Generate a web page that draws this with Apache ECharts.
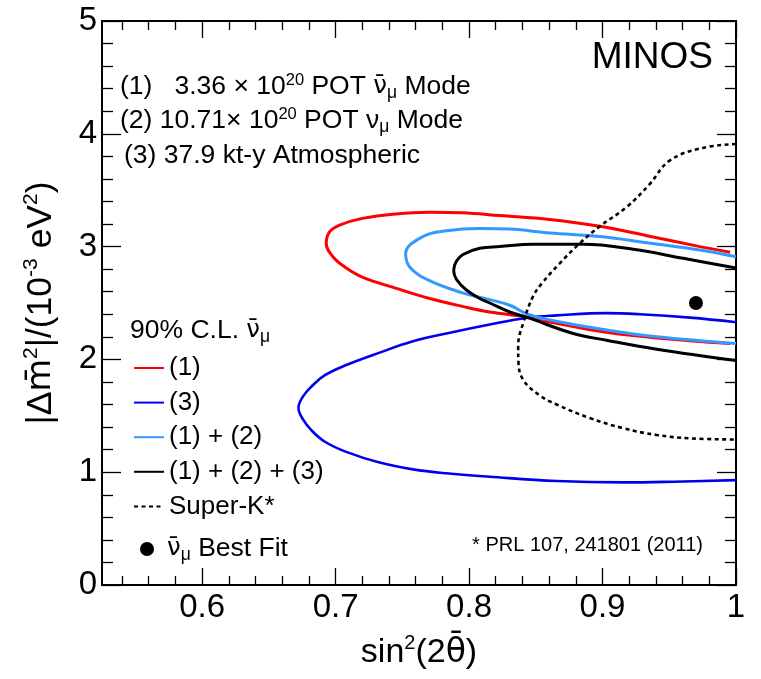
<!DOCTYPE html>
<html>
<head>
<meta charset="utf-8">
<script src="https://cdn.jsdelivr.net/npm/echarts@6/dist/echarts.min.js"></script>
<style>
html,body{margin:0;padding:0;background:#fff;}
#chart{width:761px;height:679px;}
</style>
</head>
<body>
<div id="chart"></div>
<script>
// ---- data ----
const xMin = 0.525, xMax = 1.0;
const yMin = 0, yMax = 5;
const xMajorTicks = [0.6, 0.7, 0.8, 0.9, 1.0];
const xMinorTicks = [0.54,0.56,0.58,0.62,0.64,0.66,0.68,0.72,0.74,0.76,0.78,0.82,0.84,0.86,0.88,0.92,0.94,0.96,0.98];
const seriesNames = ['(1)', '(3)', '(1) + (2)', '(1) + (2) + (3)', 'Super-K*', 'Best Fit'];

// (1) 90% C.L. contour
const redContour = [
  [0.9956,2.95],[0.973,3.00],[0.936,3.09],[0.898,3.18],[0.8605,3.24],[0.823,3.275],[0.795,3.30],
  [0.77,3.305],[0.745,3.29],[0.720,3.25],[0.703,3.19],[0.6955,3.13],[0.693,3.03],[0.698,2.91],
  [0.708,2.81],[0.720,2.73],[0.7455,2.63],[0.7705,2.54],[0.795,2.47],[0.8155,2.42],[0.844,2.375],
  [0.8656,2.32],[0.903,2.24],[0.9406,2.19],[0.9956,2.14]
];
// (3) 90% C.L. contour
const blueContour = [
  [1.0,2.33],[0.9656,2.37],[0.928,2.40],[0.903,2.41],[0.8656,2.39],[0.844,2.37],[0.8155,2.31],
  [0.783,2.23],[0.758,2.16],[0.733,2.06],[0.708,1.95],[0.692,1.86],[0.682,1.76],[0.6755,1.67],
  [0.6722,1.57],[0.6755,1.47],[0.682,1.37],[0.692,1.27],[0.708,1.18],[0.733,1.085],[0.758,1.025],
  [0.783,0.99],[0.8155,0.96],[0.8656,0.922],[0.9155,0.91],[0.953,0.916],[1.0,0.93]
];
// (1) + (2) 90% C.L. contour
const lightBlueContour = [
  [1.0,2.91],[0.973,2.97],[0.936,3.03],[0.898,3.09],[0.8605,3.12],[0.8305,3.155],[0.808,3.16],
  [0.783,3.14],[0.7655,3.09],[0.7525,2.94],[0.7555,2.82],[0.770,2.70],[0.795,2.59],[0.8155,2.53],
  [0.8305,2.48],[0.844,2.40],[0.8605,2.35],[0.903,2.26],[0.9406,2.20],[1.0,2.14]
];
// (1) + (2) + (3) 90% C.L. contour
const blackContour = [
  [1.0,2.81],[0.9605,2.896],[0.923,2.976],[0.8855,3.02],[0.848,3.02],[0.823,3.0],[0.808,2.985],
  [0.7955,2.93],[0.7905,2.87],[0.7885,2.79],[0.7905,2.71],[0.798,2.615],[0.808,2.54],[0.8155,2.50],
  [0.8305,2.42],[0.844,2.37],[0.878,2.23],[0.903,2.17],[0.9406,2.09],[1.0,1.99]
];
// Super-K 90% C.L. contour
const superKContour = [
  [1.0,3.91],[0.973,3.87],[0.95,3.76],[0.935,3.55],[0.918,3.35],[0.898,3.18],[0.883,3.03],
  [0.867,2.84],[0.855,2.68],[0.848,2.56],[0.8405,2.32],[0.8368,2.12],[0.837,1.98],[0.8405,1.82],
  [0.853,1.68],[0.8656,1.60],[0.8905,1.48],[0.9155,1.39],[0.9406,1.33],[0.9656,1.30],[1.0,1.29]
];
const bestFit = [[0.97, 2.50]];

// ---- chart ----
const FONT = 'Liberation Sans, Arial, Helvetica, sans-serif';
const BARFONT = 'DejaVu Sans, sans-serif';
const chart = echarts.init(document.getElementById('chart'), null, {renderer: 'canvas'});

function xAxisCfg(pos, ticks, len, labels) {
  return {
    type: 'value', position: pos, min: xMin, max: xMax,
    axisLine: {show: true, onZero: false, lineStyle: {color: '#000', width: 2}},
    axisTick: {show: true, inside: true, length: len, customValues: ticks, lineStyle: {color: '#000', width: 1.3}},
    axisLabel: labels ? {show: true, customValues: xMajorTicks, fontSize: 33, margin: 6, color: '#000', fontFamily: FONT,
      formatter: v => (Math.abs(v - 1) < 1e-9 ? '1' : String(Math.round(v * 10) / 10))} : {show: false},
    splitLine: {show: false}
  };
}
function yAxisCfg(pos, labels) {
  return {
    type: 'value', position: pos, min: yMin, max: yMax, interval: 1,
    axisLine: {show: true, onZero: false, lineStyle: {color: '#000', width: 2}},
    axisTick: {show: true, inside: true, length: 19, lineStyle: {color: '#000', width: 1.3}},
    minorTick: {show: true, splitNumber: 5, length: 11, lineStyle: {color: '#000', width: 1.3}},
    axisLabel: labels ? {show: true, fontSize: 33, margin: 5, color: '#000', fontFamily: FONT} : {show: false},
    splitLine: {show: false}, minorSplitLine: {show: false}
  };
}

const xAxes = [
  xAxisCfg('bottom', xMajorTicks, 17, true),
  xAxisCfg('bottom', xMinorTicks, 9, false),
  xAxisCfg('top', xMajorTicks, 17, false),
  xAxisCfg('top', xMinorTicks, 9, false)
];
Object.assign(xAxes[0], {
  name: 'sin{sup|2}(2{bar|\u03B8\u0304})', nameLocation: 'middle', nameGap: 48,
  nameTextStyle: {fontSize: 34, color: '#000', fontFamily: FONT, lineHeight: 40,
    rich: {
      sup: {fontSize: 20, lineHeight: 22, verticalAlign: 'top', color: '#000', fontFamily: FONT},
      bar: {fontSize: 33, lineHeight: 40, color: '#000', fontFamily: BARFONT}
    }}
});
const yAxes = [yAxisCfg('left', true), yAxisCfg('right', false)];
Object.assign(yAxes[0], {
  name: '|\u0394{bar|m\u0304}{sup|2}|/(10{sup|-3} eV{sup|2})', nameLocation: 'middle', nameGap: 41, nameRotate: 90,
  nameTextStyle: {fontSize: 35.5, color: '#000', fontFamily: FONT, lineHeight: 40,
    rich: {
      sup: {fontSize: 21, lineHeight: 22, verticalAlign: 'top', color: '#000', fontFamily: FONT},
      bar: {fontSize: 33.5, lineHeight: 40, color: '#000', fontFamily: BARFONT}
    }}
});

function contour(name, data, color, width, type) {
  return {
    name, type: 'line', data, xAxisIndex: 0, yAxisIndex: 0,
    showSymbol: false, symbol: 'none', smooth: 0.4, clip: true, silent: true,
    lineStyle: {color, width, type: type || 'solid'}, itemStyle: {color}, z: 3
  };
}

const richTxt = {
  t: {fontSize: 26.5, lineHeight: 30, fontFamily: FONT, color: '#000'},
  bar: {fontSize: 24.5, lineHeight: 30, fontFamily: BARFONT, color: '#000'},
  sup: {fontSize: 16.5, lineHeight: 17, verticalAlign: 'top', fontFamily: FONT, color: '#000'},
  sub: {fontSize: 17.5, lineHeight: 16, verticalAlign: 'bottom', fontFamily: FONT, color: '#000'}
};
const NUBAR = '{bar|\u03BD\u0304}';
function txt(x, y, text) {
  return {type: 'text', x, y, z: 10, silent: true,
    style: {text, rich: richTxt, align: 'left', verticalAlign: 'middle', fontFamily: FONT, fontSize: 26.5, fill: '#000'}};
}

const option = {
  animation: false,
  backgroundColor: '#fff',
  grid: {left: 102, right: 25, top: 21, bottom: 94, containLabel: false},
  xAxis: xAxes,
  yAxis: yAxes,
  legend: [
    {
      data: seriesNames.slice(0, 5), orient: 'vertical', left: 133, top: 355, padding: 0,
      itemWidth: 30, itemHeight: 14, itemGap: 8.6, selectedMode: false,
      itemStyle: {opacity: 0, borderWidth: 0},
      textStyle: {fontSize: 26, lineHeight: 26, color: '#000', fontFamily: FONT}
    },
    {
      data: [seriesNames[5]], orient: 'vertical', left: 140, top: 534, padding: 0,
      itemWidth: 14, itemHeight: 14, selectedMode: false,
      formatter: () => NUBAR + '{sub|\u03BC}{t| Best Fit}',
      textStyle: {fontSize: 26, lineHeight: 30, color: '#000', fontFamily: FONT, rich: richTxt, padding: [0, 0, 0, 8]}
    }
  ],
  graphic: [
    txt(120, 87, '{t|(1)   3.36 \u00D7 10}{sup|20}{t| POT }' + NUBAR + '{sub|\u03BC}{t| Mode}'),
    txt(120, 121, '{t|(2) 10.71\u00D7 10}{sup|20}{t| POT \u03BD}{sub|\u03BC}{t| Mode}'),
    txt(124, 156, '{t|(3) 37.9 kt-y Atmospheric}'),
    txt(130, 331, '{t|90% C.L. }' + NUBAR + '{sub|\u03BC}'),
    {type: 'text', x: 713, y: 58, z: 10, silent: true,
      style: {text: 'MINOS', fontSize: 37, fontFamily: FONT, fill: '#000', align: 'right', verticalAlign: 'middle'}},
    {type: 'text', x: 703, y: 545, z: 10, silent: true,
      style: {text: '* PRL 107, 241801 (2011)', fontSize: 20, fontFamily: FONT, fill: '#000', align: 'right', verticalAlign: 'middle'}}
  ],
  series: [
    contour(seriesNames[0], redContour, '#ff0000', 3),
    contour(seriesNames[1], blueContour, '#0000ee', 2.6),
    contour(seriesNames[2], lightBlueContour, '#3399ff', 3),
    contour(seriesNames[3], blackContour, '#000000', 3),
    contour(seriesNames[4], superKContour, '#000000', 2.6, [4, 3.5]),
    {
      name: seriesNames[5], type: 'scatter', data: bestFit, xAxisIndex: 0, yAxisIndex: 0,
      symbol: 'circle', symbolSize: 14, itemStyle: {color: '#000', opacity: 1}, silent: true, z: 4
    }
  ]
};
chart.setOption(option);
</script>
</body>
</html>
